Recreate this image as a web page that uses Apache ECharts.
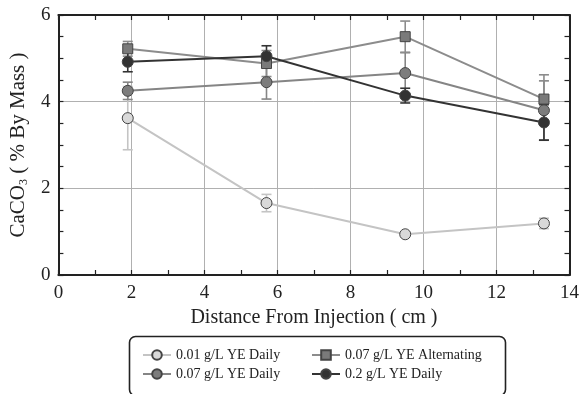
<!DOCTYPE html>
<html>
<head>
<meta charset="utf-8">
<script src="https://cdn.jsdelivr.net/npm/echarts@6/dist/echarts.min.js"></script>
<style>
  html, body { margin: 0; padding: 0; background: #fff; }
  #chart { width: 582px; height: 394px; }
</style>
</head>
<body>
<div id="chart"></div>
<script>
// Sampling distances along the column (cm)
const distances = [1.9, 5.7, 9.5, 13.3];

// CaCO3 content (% by mass) and error half-widths for each treatment
const ye001Daily = [3.62, 1.66, 0.94, 1.19];
const ye001DailyErr = [0.73, 0.20, 0.05, 0.12];

const ye007Daily = [4.25, 4.45, 4.66, 3.80];
const ye007DailyErr = [0.20, 0.39, 0.47, 0.68];

const ye007Alt = [5.22, 4.88, 5.50, 4.06];
const ye007AltErr = [0.17, 0.30, 0.36, 0.56];

const ye02Daily = [4.92, 5.05, 4.14, 3.52];
const ye02DailyErr = [0.23, 0.24, 0.17, 0.41];

const seriesNames = [
  '0.01 g/L YE Daily',
  '0.07 g/L YE Daily',
  '0.07 g/L YE Alternating',
  '0.2 g/L YE Daily'
];

const xTicks = [0, 2, 4, 6, 8, 10, 12, 14];
const yTicks = [0, 2, 4, 6];

const FONT = "'Liberation Serif', 'Times New Roman', serif";

const styles = [
  { line: '#c4c4c4', fill: '#d9d9d9', symbol: 'circle', size: 11 },
  { line: '#858585', fill: '#7d7d7d', symbol: 'circle', size: 11 },
  { line: '#8c8c8c', fill: '#7a7a7a', symbol: 'rect', size: 10 },
  { line: '#333333', fill: '#333333', symbol: 'circle', size: 11 }
];

const values = [ye001Daily, ye007Daily, ye007Alt, ye02Daily];
const errors = [ye001DailyErr, ye007DailyErr, ye007AltErr, ye02DailyErr];

function errorSeries(idx) {
  const data = distances.map((x, i) => [x, values[idx][i] - errors[idx][i], values[idx][i] + errors[idx][i]]);
  return {
    type: 'custom',
    name: seriesNames[idx] + ' err',
    xAxisIndex: 0,
    yAxisIndex: 0,
    z: 3,
    silent: true,
    data: data,
    renderItem: function (params, api) {
      const lo = api.coord([api.value(0), api.value(1)]);
      const hi = api.coord([api.value(0), api.value(2)]);
      const w = 5;
      const st = { stroke: styles[idx].line, lineWidth: 1.6 };
      return {
        type: 'group',
        children: [
          { type: 'line', shape: { x1: lo[0], y1: lo[1], x2: hi[0], y2: hi[1] }, style: st },
          { type: 'line', shape: { x1: lo[0] - w, y1: lo[1], x2: lo[0] + w, y2: lo[1] }, style: st },
          { type: 'line', shape: { x1: hi[0] - w, y1: hi[1], x2: hi[0] + w, y2: hi[1] }, style: st }
        ]
      };
    }
  };
}

function lineSeries(idx) {
  const s = styles[idx];
  return {
    type: 'line',
    name: seriesNames[idx],
    xAxisIndex: 0,
    yAxisIndex: 0,
    z: 4,
    data: distances.map((x, i) => [x, values[idx][i]]),
    symbol: s.symbol,
    symbolSize: s.size,
    showAllSymbol: true,
    lineStyle: { color: s.line, width: 2 },
    itemStyle: { color: s.fill, borderColor: '#444', borderWidth: 1 }
  };
}

const series = [];
for (let i = 0; i < 4; i++) series.push(errorSeries(i));
for (let i = 0; i < 4; i++) series.push(lineSeries(i));

const axisCommon = {
  min: 0,
  axisLine: { show: true, onZero: false, lineStyle: { color: '#222', width: 2 } },
  axisTick: { show: true, inside: true, length: 5, lineStyle: { color: '#222', width: 1.2 } },
  minorTick: { show: true, length: 5, lineStyle: { color: '#222', width: 1.2 } }
};

function legendAt(name, left, top) {
  return {
    data: [name],
    left: left,
    top: top,
    itemWidth: 28,
    itemHeight: 12,
    itemGap: 4,
    selectedMode: false,
    textStyle: { fontFamily: FONT, fontSize: 14, color: '#222' }
  };
}

const option = {
  animation: false,
  backgroundColor: '#ffffff',
  grid: { left: 54, right: 9, top: 15, bottom: 119, containLabel: false },
  xAxis: [
    Object.assign({}, axisCommon, {
      type: 'value', position: 'bottom', max: 14, interval: 2,
      minorTick: Object.assign({}, axisCommon.minorTick, { splitNumber: 2 }),
      axisLabel: {
        margin: 9, fontFamily: FONT, fontSize: 19, color: '#222',
        formatter: v => (xTicks.indexOf(v) >= 0 ? String(v) : '')
      },
      splitLine: { show: true, lineStyle: { color: '#b0b0b0', width: 1 } },
      name: 'Distance From Injection ( cm )',
      nameLocation: 'middle',
      nameGap: 32,
      nameTextStyle: { fontFamily: FONT, fontSize: 20, color: '#222' }
    }),
    Object.assign({}, axisCommon, {
      type: 'value', position: 'top', max: 14, interval: 2,
      minorTick: Object.assign({}, axisCommon.minorTick, { splitNumber: 2 }),
      axisLabel: { show: false },
      splitLine: { show: false }
    })
  ],
  yAxis: [
    Object.assign({}, axisCommon, {
      type: 'value', position: 'left', max: 6, interval: 2,
      minorTick: Object.assign({}, axisCommon.minorTick, { splitNumber: 4 }),
      axisLabel: {
        margin: 8, fontFamily: FONT, fontSize: 19, color: '#222',
        formatter: v => (yTicks.indexOf(v) >= 0 ? String(v) : '')
      },
      splitLine: { show: true, lineStyle: { color: '#b0b0b0', width: 1 } },
      name: 'CaCO{sub|3} ( % By Mass )',
      nameLocation: 'middle',
      nameGap: 28,
      nameTextStyle: {
        fontFamily: FONT, fontSize: 21, color: '#222',
        rich: {
          sub: { fontFamily: FONT, fontSize: 12, color: '#222', verticalAlign: 'bottom', padding: [11, 0, 0, 0] }
        }
      }
    }),
    Object.assign({}, axisCommon, {
      type: 'value', position: 'right', max: 6, interval: 2,
      minorTick: Object.assign({}, axisCommon.minorTick, { splitNumber: 4 }),
      axisLabel: { show: false },
      splitLine: { show: false }
    })
  ],
  legend: [
    legendAt(seriesNames[0], 137, 343),
    legendAt(seriesNames[1], 137, 362),
    legendAt(seriesNames[2], 306, 343),
    legendAt(seriesNames[3], 306, 362)
  ],
  graphic: [
    {
      type: 'rect',
      left: 127,
      top: 334,
      shape: { width: 376, height: 59, r: 6 },
      style: { fill: 'none', stroke: '#222', lineWidth: 1.6 },
      z: 10
    }
  ],
  series: series
};

const chart = echarts.init(document.getElementById('chart'), null, { renderer: 'canvas' });
chart.setOption(option);
</script>
</body>
</html>
